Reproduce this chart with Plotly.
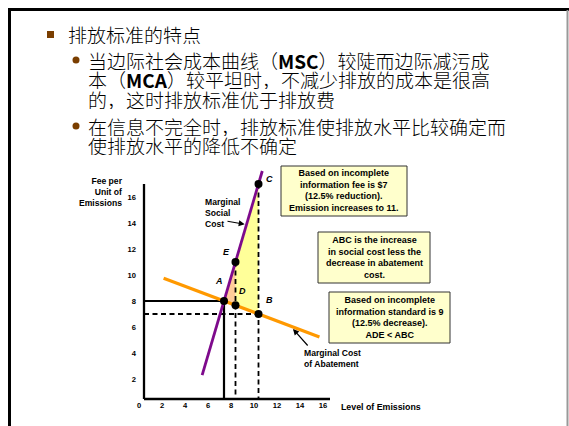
import plotly.graph_objects as go

W, H = 569, 426

# ---------------- slide text ----------------
heading = "排放标准的特点"
bullet_1 = ["当边际社会成本曲线（<b>MSC</b>）较陡而边际减污成",
            "本（<b>MCA</b>）较平坦时，不减少排放的成本是很高",
            "的，这时排放标准优于排放费"]
bullet_2 = ["在信息不完全时，排放标准使排放水平比较确定而",
            "使排放水平的降低不确定"]

# ---------------- chart data ----------------
x_ticks = [0, 2, 4, 6, 8, 10, 12, 14, 16]
y_ticks = [2, 4, 6, 8, 10, 12, 14, 16]

msc_x = [6.1, 11.33]          # Marginal Social Cost
msc_y = [2.3, 18.0]
mca_x = [2.75, 16.3]          # Marginal Cost of Abatement
mca_y = [9.75, 5.23]

point_names = ["A", "E", "D", "B", "C"]
point_x = [8, 9, 9, 11, 11]
point_y = [8, 11, 7.67, 7, 17]
P = {n: (x, y) for n, x, y in zip(point_names, point_x, point_y)}

box_texts = [
    "Based on incomplete<br>information fee is $7<br>(12.5% reduction).<br>Emission increases to 11.",
    "ABC is the increase<br>in social cost less the<br>decrease in abatement<br>cost.",
    "Based on incomplete<br>information standard is 9<br>(12.5% decrease).<br>ADE < ABC",
]

# ---------------- layout helpers (pixel -> paper / data) ----------------
def fx(px):
    return px / W

def fy(py):
    return 1 - py / H

X8_PX, X_UNIT = 224, 11.5     # pixel of x=8, pixels per x unit
Y8_PX, Y_UNIT = 301, 13.0     # pixel of y=8, pixels per y unit

def dx(px):
    return 8 + (px - X8_PX) / X_UNIT

def dy(py):
    return 8 + (Y8_PX - py) / Y_UNIT

AX_LEFT, AX_BOTTOM, AX_RIGHT, AX_TOP = 144, 399, 330, 184
x0, y0 = dx(AX_LEFT), dy(AX_BOTTOM)

ARIAL = "Liberation Sans, Arial, sans-serif"
CJK = "Noto Sans CJK SC, sans-serif"
PURPLE = "#7E0A8C"
ORANGE = "#FF9900"
BROWN = "#7A3E00"

fig = go.Figure()

# shaded areas
fig.add_trace(go.Scatter(
    x=[P["E"][0], P["C"][0], P["B"][0], P["D"][0]],
    y=[P["E"][1], P["C"][1], P["B"][1], P["D"][1]],
    fill="toself", fillcolor="#FFFF99", mode="none", hoverinfo="skip"))
fig.add_trace(go.Scatter(
    x=[P["A"][0], P["E"][0], P["D"][0]],
    y=[P["A"][1], P["E"][1], P["D"][1]],
    fill="toself", fillcolor="#FFCC99", mode="none", hoverinfo="skip"))

# dashed guides: fee of $7 and the emission levels 9 and 11
fig.add_trace(go.Scatter(
    x=[x0, P["B"][0], None, P["E"][0], P["E"][0], None, P["C"][0], P["C"][0]],
    y=[P["B"][1], P["B"][1], None, P["E"][1], y0, None, P["C"][1], y0],
    mode="lines", line=dict(color="black", width=1.8, dash="5px,3.5px"),
    hoverinfo="skip"))
# solid guides to the efficient point A
fig.add_trace(go.Scatter(
    x=[x0, P["A"][0], P["A"][0]], y=[P["A"][1], P["A"][1], y0],
    mode="lines", line=dict(color="black", width=2.2), hoverinfo="skip"))

# curves
fig.add_trace(go.Scatter(x=mca_x, y=mca_y, mode="lines",
                         line=dict(color=ORANGE, width=3.2)))
fig.add_trace(go.Scatter(x=msc_x, y=msc_y, mode="lines",
                         line=dict(color=PURPLE, width=2.8)))

# points
fig.add_trace(go.Scatter(x=point_x, y=point_y, mode="markers",
                         marker=dict(color="black", size=8)))

annotations = []
shapes = []

# point labels
label_shift = {"A": (-5, 20), "E": (-9, 10), "D": (7, 14), "B": (11, 14), "C": (11, 5)}
for n in point_names:
    sx, sy = label_shift[n]
    annotations.append(dict(x=P[n][0], y=P[n][1], xref="x", yref="y", text=f"<b><i>{n}</i></b>",
                            showarrow=False, xshift=sx, yshift=sy,
                            font=dict(family=ARIAL, size=9, color="black")))

# axis frame
shapes.append(dict(type="line", xref="paper", yref="paper", x0=fx(AX_LEFT), x1=fx(AX_LEFT),
                   y0=fy(AX_TOP), y1=fy(AX_BOTTOM), line=dict(color="black", width=2.3)))
shapes.append(dict(type="line", xref="paper", yref="paper", x0=fx(AX_LEFT), x1=fx(AX_RIGHT),
                   y0=fy(AX_BOTTOM), y1=fy(AX_BOTTOM), line=dict(color="black", width=2.3)))

# axis titles
annotations.append(dict(x=fx(125), y=fy(192), xref="paper", yref="paper",
                        text="<b>Fee per<br>Unit of<br>Emissions</b>", align="right",
                        xanchor="right", yanchor="middle", showarrow=False,
                        font=dict(family=ARIAL, size=8.6, color="black")))
annotations.append(dict(x=fx(339), y=fy(407), xref="paper", yref="paper",
                        text="<b>Level of Emissions</b>", xanchor="left", yanchor="middle",
                        showarrow=False, font=dict(family=ARIAL, size=8.8, color="black")))

# curve labels with pointers
annotations.append(dict(x=fx(203), y=fy(212.5), xref="paper", yref="paper",
                        text="<b>Marginal<br>Social<br>Cost</b>", align="left",
                        xanchor="left", yanchor="middle", showarrow=False,
                        font=dict(family=ARIAL, size=8.6, color="black")))
annotations.append(dict(x=9.8, y=13.9, ax=dx(226), ay=dy(221), xref="x", yref="y",
                        axref="x", ayref="y", text="", showarrow=True,
                        arrowhead=2, arrowsize=1, arrowwidth=1.2, arrowcolor="black"))
annotations.append(dict(x=fx(302), y=fy(358), xref="paper", yref="paper",
                        text="<b>Marginal Cost<br>of Abatement</b>", align="left",
                        xanchor="left", yanchor="middle", showarrow=False,
                        font=dict(family=ARIAL, size=8.6, color="black")))
annotations.append(dict(x=14.0, y=5.85, ax=dx(309), ay=dy(347), xref="x", yref="y",
                        axref="x", ayref="y", text="", showarrow=True,
                        arrowhead=2, arrowsize=1, arrowwidth=1.2, arrowcolor="black"))

# explanation boxes
box_px = [(281, 166, 407, 216), (318, 232, 430, 283), (329, 292, 450, 343)]
for (l, t, r, b), txt in zip(box_px, box_texts):
    shapes.append(dict(type="rect", xref="paper", yref="paper", x0=fx(l), x1=fx(r),
                       y0=fy(b), y1=fy(t), fillcolor="#FFFFCC",
                       line=dict(color="#333333", width=1)))
    annotations.append(dict(x=fx((l + r) / 2), y=fy((t + b) / 2), xref="paper", yref="paper",
                            text=f"<b>{txt}</b>", align="center", xanchor="center",
                            yanchor="middle", showarrow=False,
                            font=dict(family=ARIAL, size=9, color="black")))

# slide frame
shapes.append(dict(type="line", xref="paper", yref="paper", x0=fx(8), x1=1,
                   y0=fy(9.5), y1=fy(9.5), line=dict(color="black", width=3)))
shapes.append(dict(type="line", xref="paper", yref="paper", x0=fx(9.5), x1=fx(9.5),
                   y0=fy(8), y1=0, line=dict(color="black", width=3)))
shapes.append(dict(type="line", xref="paper", yref="paper", x0=fx(567.5), x1=fx(567.5),
                   y0=fy(10), y1=0, line=dict(color="#999999", width=2)))

# slide text
shapes.append(dict(type="rect", xref="paper", yref="paper", x0=fx(47), x1=fx(54),
                   y0=fy(38), y1=fy(31), fillcolor=BROWN, line=dict(width=0)))
annotations.append(dict(x=fx(66), y=fy(34), xref="paper", yref="paper", text=heading,
                        xanchor="left", yanchor="middle", showarrow=False, height=20,
                        font=dict(family=CJK, size=19, color="black", weight=300)))
for lines, top in ((bullet_1, 60), (bullet_2, 126)):
    shapes.append(dict(type="circle", xref="paper", yref="paper", x0=fx(72.5), x1=fx(79.5),
                       y0=fy(top + 3.5), y1=fy(top - 3.5), fillcolor=BROWN, line=dict(width=0)))
    for i, line in enumerate(lines):
        annotations.append(dict(x=fx(86), y=fy(top + 19.5 * i), xref="paper", yref="paper",
                                text=line, xanchor="left", yanchor="middle", showarrow=False,
                                height=19,
                                font=dict(family=CJK, size=19, color="black", weight=300)))

fig.update_layout(
    width=W, height=H, margin=dict(l=0, r=0, t=0, b=0),
    paper_bgcolor="white", plot_bgcolor="white", showlegend=False,
    xaxis=dict(range=[dx(0), dx(W)], anchor="free", position=fy(AX_BOTTOM),
               tickvals=x_ticks, ticks="", showgrid=False, zeroline=False, showline=False,
               tickfont=dict(family=ARIAL, size=7.6, color="black", weight="bold"),
               ticklabelshift=7, fixedrange=True),
    yaxis=dict(range=[dy(H), dy(0)], anchor="free", position=fx(AX_LEFT),
               tickvals=y_ticks, ticks="", showgrid=False, zeroline=False, showline=False,
               tickfont=dict(family=ARIAL, size=7.6, color="black", weight="bold"),
               ticklabelstandoff=8, fixedrange=True),
    shapes=shapes, annotations=annotations,
)

fig.write_html("out.html")
